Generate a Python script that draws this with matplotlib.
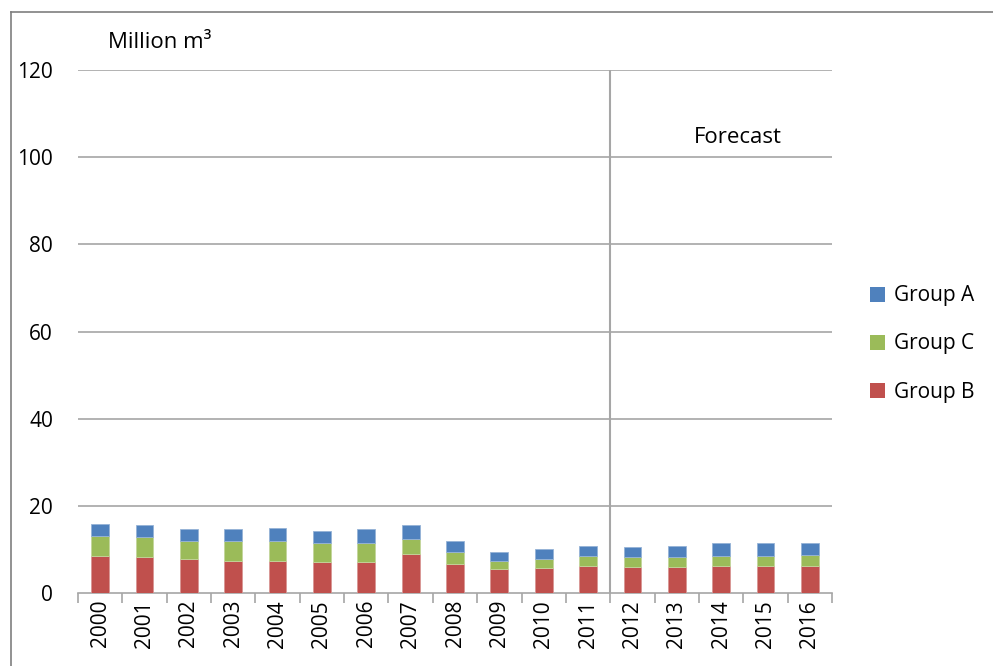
import matplotlib
matplotlib.use("Agg")
import matplotlib.pyplot as plt
from matplotlib.patches import Patch
from matplotlib.lines import Line2D
import numpy as np

plt.rcParams['font.family'] = ['Open Sans', 'DejaVu Sans']

years = [str(y) for y in range(2000, 2017)]
group_b = [8.5, 8.2, 7.7, 7.4, 7.4, 7.1, 7.1, 8.9, 6.7, 5.4, 5.7, 6.2, 5.9, 5.9, 6.2, 6.2, 6.2]
group_c = [4.6, 4.6, 4.3, 4.6, 4.6, 4.4, 4.3, 3.6, 2.7, 1.9, 2.0, 2.3, 2.3, 2.3, 2.3, 2.3, 2.6]
group_a = [2.7, 2.7, 2.7, 2.6, 2.9, 2.8, 3.2, 3.0, 2.5, 2.1, 2.5, 2.3, 2.4, 2.6, 2.9, 2.9, 2.6]
yticks = [0, 20, 40, 60, 80, 100, 120]

col_a = '#4F81BD'
col_c = '#9BBB59'
col_b = '#C0504D'
grid_col = '#A6A6A6'

W, H = 993, 666
fig = plt.figure(figsize=(W / 100, H / 100), dpi=100)
fig.patch.set_linewidth(0)
ax = fig.add_axes([78 / W, (H - 593) / H, (832 - 78) / W, (593 - 70) / H])

x = np.arange(len(years))
b = np.array(group_b)
c = np.array(group_c)
a = np.array(group_a)
bw = 0.4
ax.bar(x, b, width=bw, color=col_b, edgecolor='#D99694', linewidth=0.6, zorder=3)
ax.bar(x, c, width=bw, bottom=b, color=col_c, edgecolor='#C3D69B', linewidth=0.6, zorder=3)
ax.bar(x, a, width=bw, bottom=b + c, color=col_a, edgecolor='#95B3D7', linewidth=0.6, zorder=3)

ax.set_xlim(-0.5, len(years) - 0.5)
ax.set_ylim(0, 120)
ax.set_yticks(yticks)
ax.set_yticklabels([str(v) for v in yticks], fontsize=15, color='#000000')
ax.tick_params(axis='y', length=0, pad=18)
for v in yticks[1:]:
    ax.axhline(v, color=grid_col, linewidth=1.2, zorder=1)

ax.set_xticks(x)
ax.set_xticklabels(years, rotation=90, fontsize=15, color='#000000')
ax.tick_params(axis='x', which='major', length=0, pad=5)
ax.set_xticks(np.arange(-0.5, len(years), 1.0), minor=True)
ax.tick_params(axis='x', which='minor', length=7, width=1.2, color=grid_col, direction='out')

for s in ['left', 'right', 'top']:
    ax.spines[s].set_visible(False)
ax.spines['bottom'].set_color(grid_col)
ax.spines['bottom'].set_linewidth(1.2)

ax.axvline(11.5, color='#A6A6A6', linewidth=1.5, zorder=2)
ax.text(0.875, 0.871, 'Forecast', transform=ax.transAxes, fontsize=16,
        ha='center', va='center', color='#000000')

fig.text(108 / W, 1 - 42 / H, 'Million m\u00b3', fontsize=16, ha='left', va='center', color='#000000')

handles = [Patch(facecolor=col_a, label='Group A'),
           Patch(facecolor=col_c, label='Group C'),
           Patch(facecolor=col_b, label='Group B')]
fig.legend(handles=handles, loc='center left', bbox_to_anchor=(851 / W, 1 - 344 / H),
           frameon=False, fontsize=15, handlelength=0.75, handleheight=0.75,
           handletextpad=0.4, labelspacing=1.3)

fig.add_artist(Line2D([11 / W, 11 / W], [0, 1 - 12 / H], transform=fig.transFigure,
                      color='#7F7F7F', linewidth=1.2))
fig.add_artist(Line2D([11 / W, 1], [1 - 12 / H, 1 - 12 / H], transform=fig.transFigure,
                      color='#7F7F7F', linewidth=1.2))

fig.savefig('out.png', dpi=100, facecolor='white')
